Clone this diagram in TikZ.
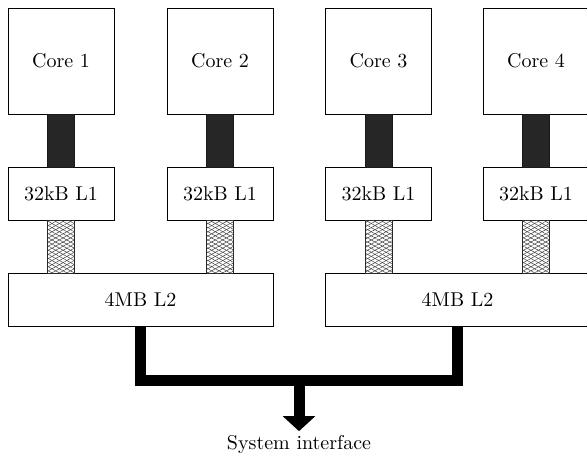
\documentclass[tikz,border=0pt]{standalone}
\usetikzlibrary{arrows.meta,patterns.meta}
\begin{document}
\begin{tikzpicture}[x=0.5pt,y=-0.5pt,
  corebox/.style={draw,fill=white,minimum width=53pt,minimum height=53pt,outer sep=0pt,inner sep=0pt},
  cachebox/.style={draw,fill=white,minimum width=53pt,minimum height=26.5pt,outer sep=0pt,inner sep=0pt},
  l2box/.style={draw,fill=white,minimum width=132.5pt,minimum height=26.5pt,outer sep=0pt,inner sep=0pt},
  darkbar/.style={draw=black!90,fill=black!85,line width=0.4pt},
  hatchbar/.style={draw=black!85,line width=0.4pt,fill=white,
    pattern={Lines[angle=29,distance=1.8pt,line width=0.25pt]},pattern color=black!75,
    postaction={pattern={Lines[angle=-29,distance=1.8pt,line width=0.25pt]},pattern color=black!75}},
  busline/.style={line width=5.5pt,black}]
\useasboundingbox (0,0) rectangle (587,454);
\clip (0,0) rectangle (587,454);
\fill[white] (0,0) rectangle (587,454);

% cores
\node[corebox] (c1) at (61,61) {Core 1};
\node[corebox] (c2) at (220,61) {Core 2};
\node[corebox] (c3) at (378.5,61) {Core 3};
\node[corebox] (c4) at (536,61) {Core 4};

% private L1 caches
\node[cachebox] (l1a) at (61,193.5) {32kB L1};
\node[cachebox] (l1b) at (220,193.5) {32kB L1};
\node[cachebox] (l1c) at (378.5,193.5) {32kB L1};
\node[cachebox] (l1d) at (536,193.5) {32kB L1};

% shared L2 caches
\node[l2box] (l2a) at (140.5,299.5) {4MB L2};
\node[l2box] (l2b) at (457.5,299.5) {4MB L2};

% core to L1 links
\foreach \c/\l in {c1/l1a,c2/l1b,c3/l1c,c4/l1d}
  \draw[darkbar] ([xshift=-6.75pt]\c.south) rectangle ([xshift=6.75pt]\l.north);

% L1 to L2 links
\foreach \l/\m in {l1a/l2a,l1b/l2a,l1c/l2b,l1d/l2b}
  \draw[hatchbar] ([xshift=-6.75pt]\l.south) rectangle ([xshift=6.75pt]\l.south |- \m.north);

% system interface
\node[anchor=base,inner sep=1.65pt] (sys) at (299,449) {System interface};
\coordinate (bus) at (299,380);
\draw[busline] (l2a.south) |- (bus) -| (l2b.south);
\draw[busline,-{Triangle[width=15.8pt,length=7.5pt]}] (bus) -- (sys.north);
\end{tikzpicture}
\end{document}
